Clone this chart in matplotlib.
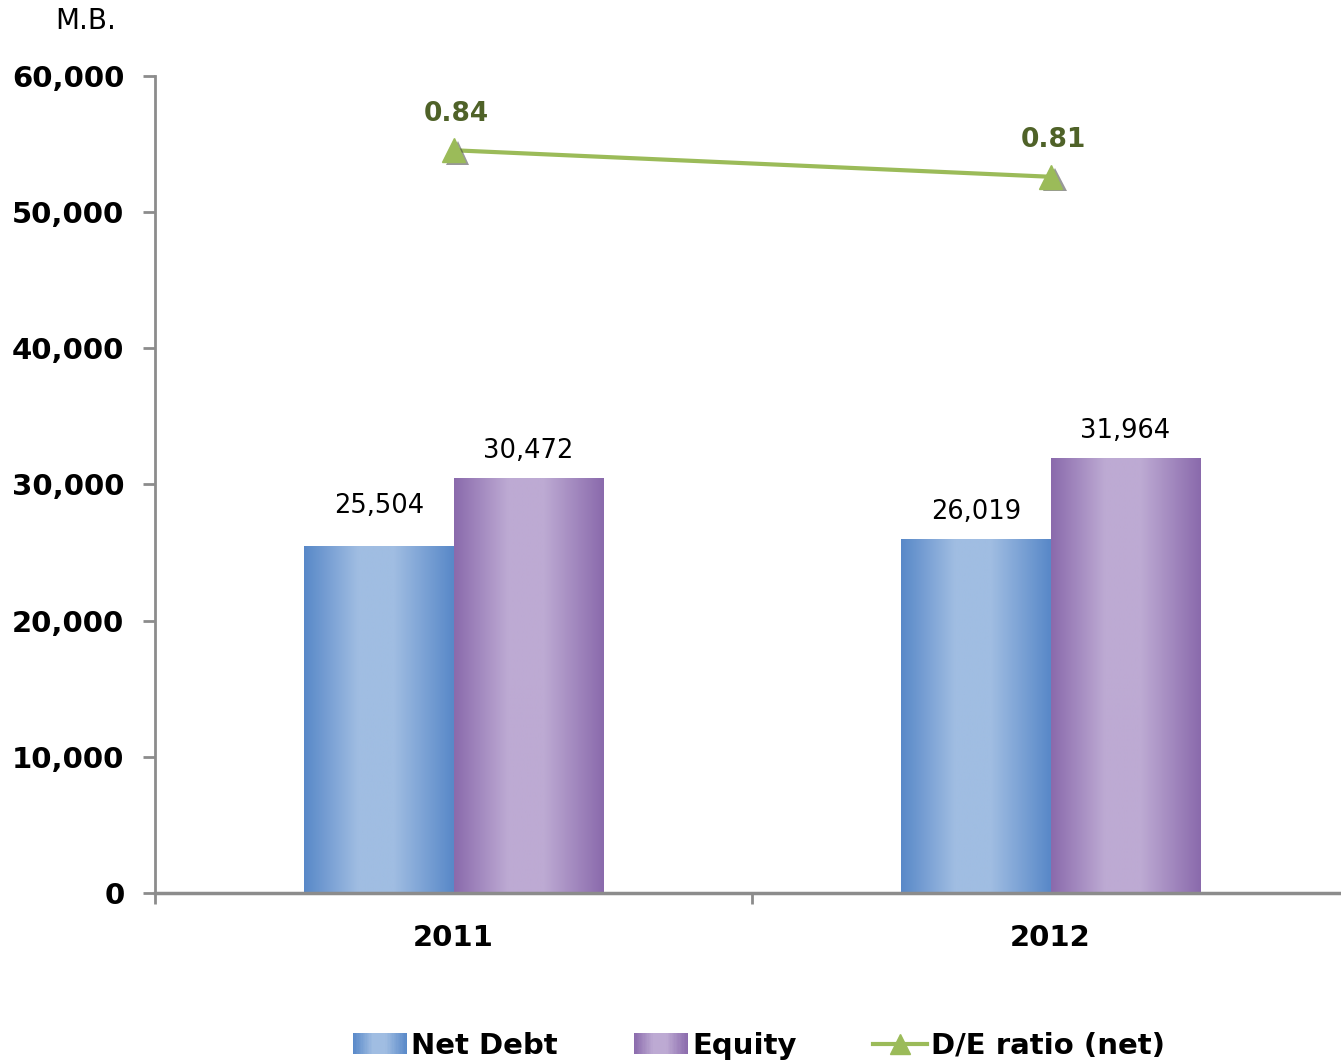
import numpy as np
import matplotlib
matplotlib.use("Agg")
import matplotlib.pyplot as plt
from matplotlib.patches import Rectangle
from matplotlib.legend_handler import HandlerBase
from matplotlib.lines import Line2D
from matplotlib.colors import LinearSegmentedColormap
import matplotlib.patheffects as pe

plt.rcParams['font.family'] = ['DejaVu Sans']

# Data (million baht)
years = ["2011", "2012"]
net_debt = [25504, 26019]
equity = [30472, 31964]
de_ratio = [0.84, 0.81]
de_labels = ["0.84", "0.81"]
yticks = [0, 10000, 20000, 30000, 40000, 50000, 60000]

series_names = ["Net Debt", "Equity", "D/E ratio (net)"]
blue_edge, blue_mid = "#5888c8", "#a0bde2"
purple_edge, purple_mid = "#8a6aac", "#bdaad3"
line_color = "#9bbb59"
ratio_text_color = "#4f6228"
axis_gray = "#8c8c8c"


def make_cmap(edge, mid):
    return LinearSegmentedColormap.from_list(
        "g", [(0.0, edge), (0.36, mid), (0.6, mid), (1.0, edge)])


blue_cmap = make_cmap(blue_edge, blue_mid)
purple_cmap = make_cmap(purple_edge, purple_mid)

fig = plt.figure(figsize=(13.41, 10.64), dpi=100)
ax = fig.add_axes([0.1156, 0.1607, 0.8904, 0.7679])

x = np.arange(len(years))
w = 0.25
grad = np.linspace(0, 1, 256).reshape(1, -1)


def gradient_bars(xpos, vals, cmap):
    bars = ax.bar(xpos, vals, width=w, color="none", edgecolor="none", zorder=2)
    for b in bars:
        x0, y0 = b.get_x(), b.get_y()
        im = ax.imshow(grad, cmap=cmap, aspect="auto", zorder=2,
                       extent=(x0, x0 + b.get_width(), y0, y0 + b.get_height()),
                       interpolation="bilinear")
        im.set_clip_path(b)
    return bars


b1 = gradient_bars(x - w / 2, net_debt, blue_cmap)
b2 = gradient_bars(x + w / 2, equity, purple_cmap)

# label offsets (points above the bar top); the first Net Debt label sits higher
label_gaps = {"nd": [19, 10], "eq": [10, 10]}
for key, bars, vals in (("nd", b1, net_debt), ("eq", b2, equity)):
    for b, v, gap in zip(bars, vals, label_gaps[key]):
        ax.annotate(f"{v:,}", (b.get_x() + b.get_width() / 2, v),
                    xytext=(0, gap), textcoords="offset points",
                    ha="center", va="bottom", fontsize=18.5, color="black")

ax.set_xlim(-0.5, 1.5)
ax.set_ylim(0, 60000)
ax.set_yticks(yticks)
ax.set_yticklabels([f"{t:,}" for t in yticks], fontsize=21, fontweight="bold")
ax.set_xticks(x)
ax.set_xticklabels(years, fontsize=21, fontweight="bold")
ax.tick_params(axis="x", length=0, pad=22)
ax.set_xticks([-0.5, 0.5, 1.5], minor=True)
ax.tick_params(axis="x", which="minor", length=8, width=2, color=axis_gray, direction="out")
ax.tick_params(axis="y", length=9, width=2, color=axis_gray, direction="out", pad=13)

for s in ("top", "right"):
    ax.spines[s].set_visible(False)
ax.spines["left"].set_color(axis_gray)
ax.spines["left"].set_linewidth(2)
ax.spines["bottom"].set_color(axis_gray)
ax.spines["bottom"].set_linewidth(2.5)

# D/E ratio on a hidden secondary axis
ax2 = ax.twinx()
ax2.set_ylim(0, 0.924)
ax2.set_xlim(-0.5, 1.5)
ax2.axis("off")
ax2.plot(x, de_ratio, color=line_color, lw=3, zorder=3)
ax2.plot(x, de_ratio, ls="none", marker="^", ms=17, color=line_color,
         markeredgecolor=line_color, zorder=4,
         path_effects=[pe.SimplePatchShadow(offset=(3, -2), shadow_rgbFace="#444444", alpha=0.55),
                       pe.Normal()])
for xi, v, lbl in zip(x, de_ratio, de_labels):
    ax2.annotate(lbl, (xi, v), xytext=(2, 17), textcoords="offset points",
                 ha="center", va="bottom", fontsize=19, fontweight="bold",
                 color=ratio_text_color)

fig.text(0.064, 0.980, "M.B.", fontsize=20, ha="center", va="center")


class GradientHandler(HandlerBase):
    def __init__(self, cmap):
        super().__init__()
        self.cmap = cmap

    def create_artists(self, legend, orig_handle, xdescent, ydescent,
                       width, height, fontsize, trans):
        n = 40
        arts = []
        for i in range(n):
            r = Rectangle((-xdescent + width * i / n, -ydescent),
                          width / n * 1.05, height,
                          facecolor=self.cmap((i + 0.5) / n), edgecolor="none",
                          transform=trans)
            arts.append(r)
        return arts


h_nd = Rectangle((0, 0), 1, 1)
h_eq = Rectangle((0, 0), 1, 1)
h_de = Line2D([], [], color=line_color, lw=3, marker="^", ms=14)

leg = fig.legend([h_nd, h_eq, h_de], series_names, loc="center",
                 bbox_to_anchor=(0.566, 0.017), ncol=3, frameon=False,
                 handler_map={h_nd: GradientHandler(blue_cmap),
                              h_eq: GradientHandler(purple_cmap)},
                 prop={"weight": "bold", "size": 21},
                 handlelength=1.85, handletextpad=0.15, columnspacing=2.6,
                 borderaxespad=0)

fig.savefig("out.png", dpi=100)
